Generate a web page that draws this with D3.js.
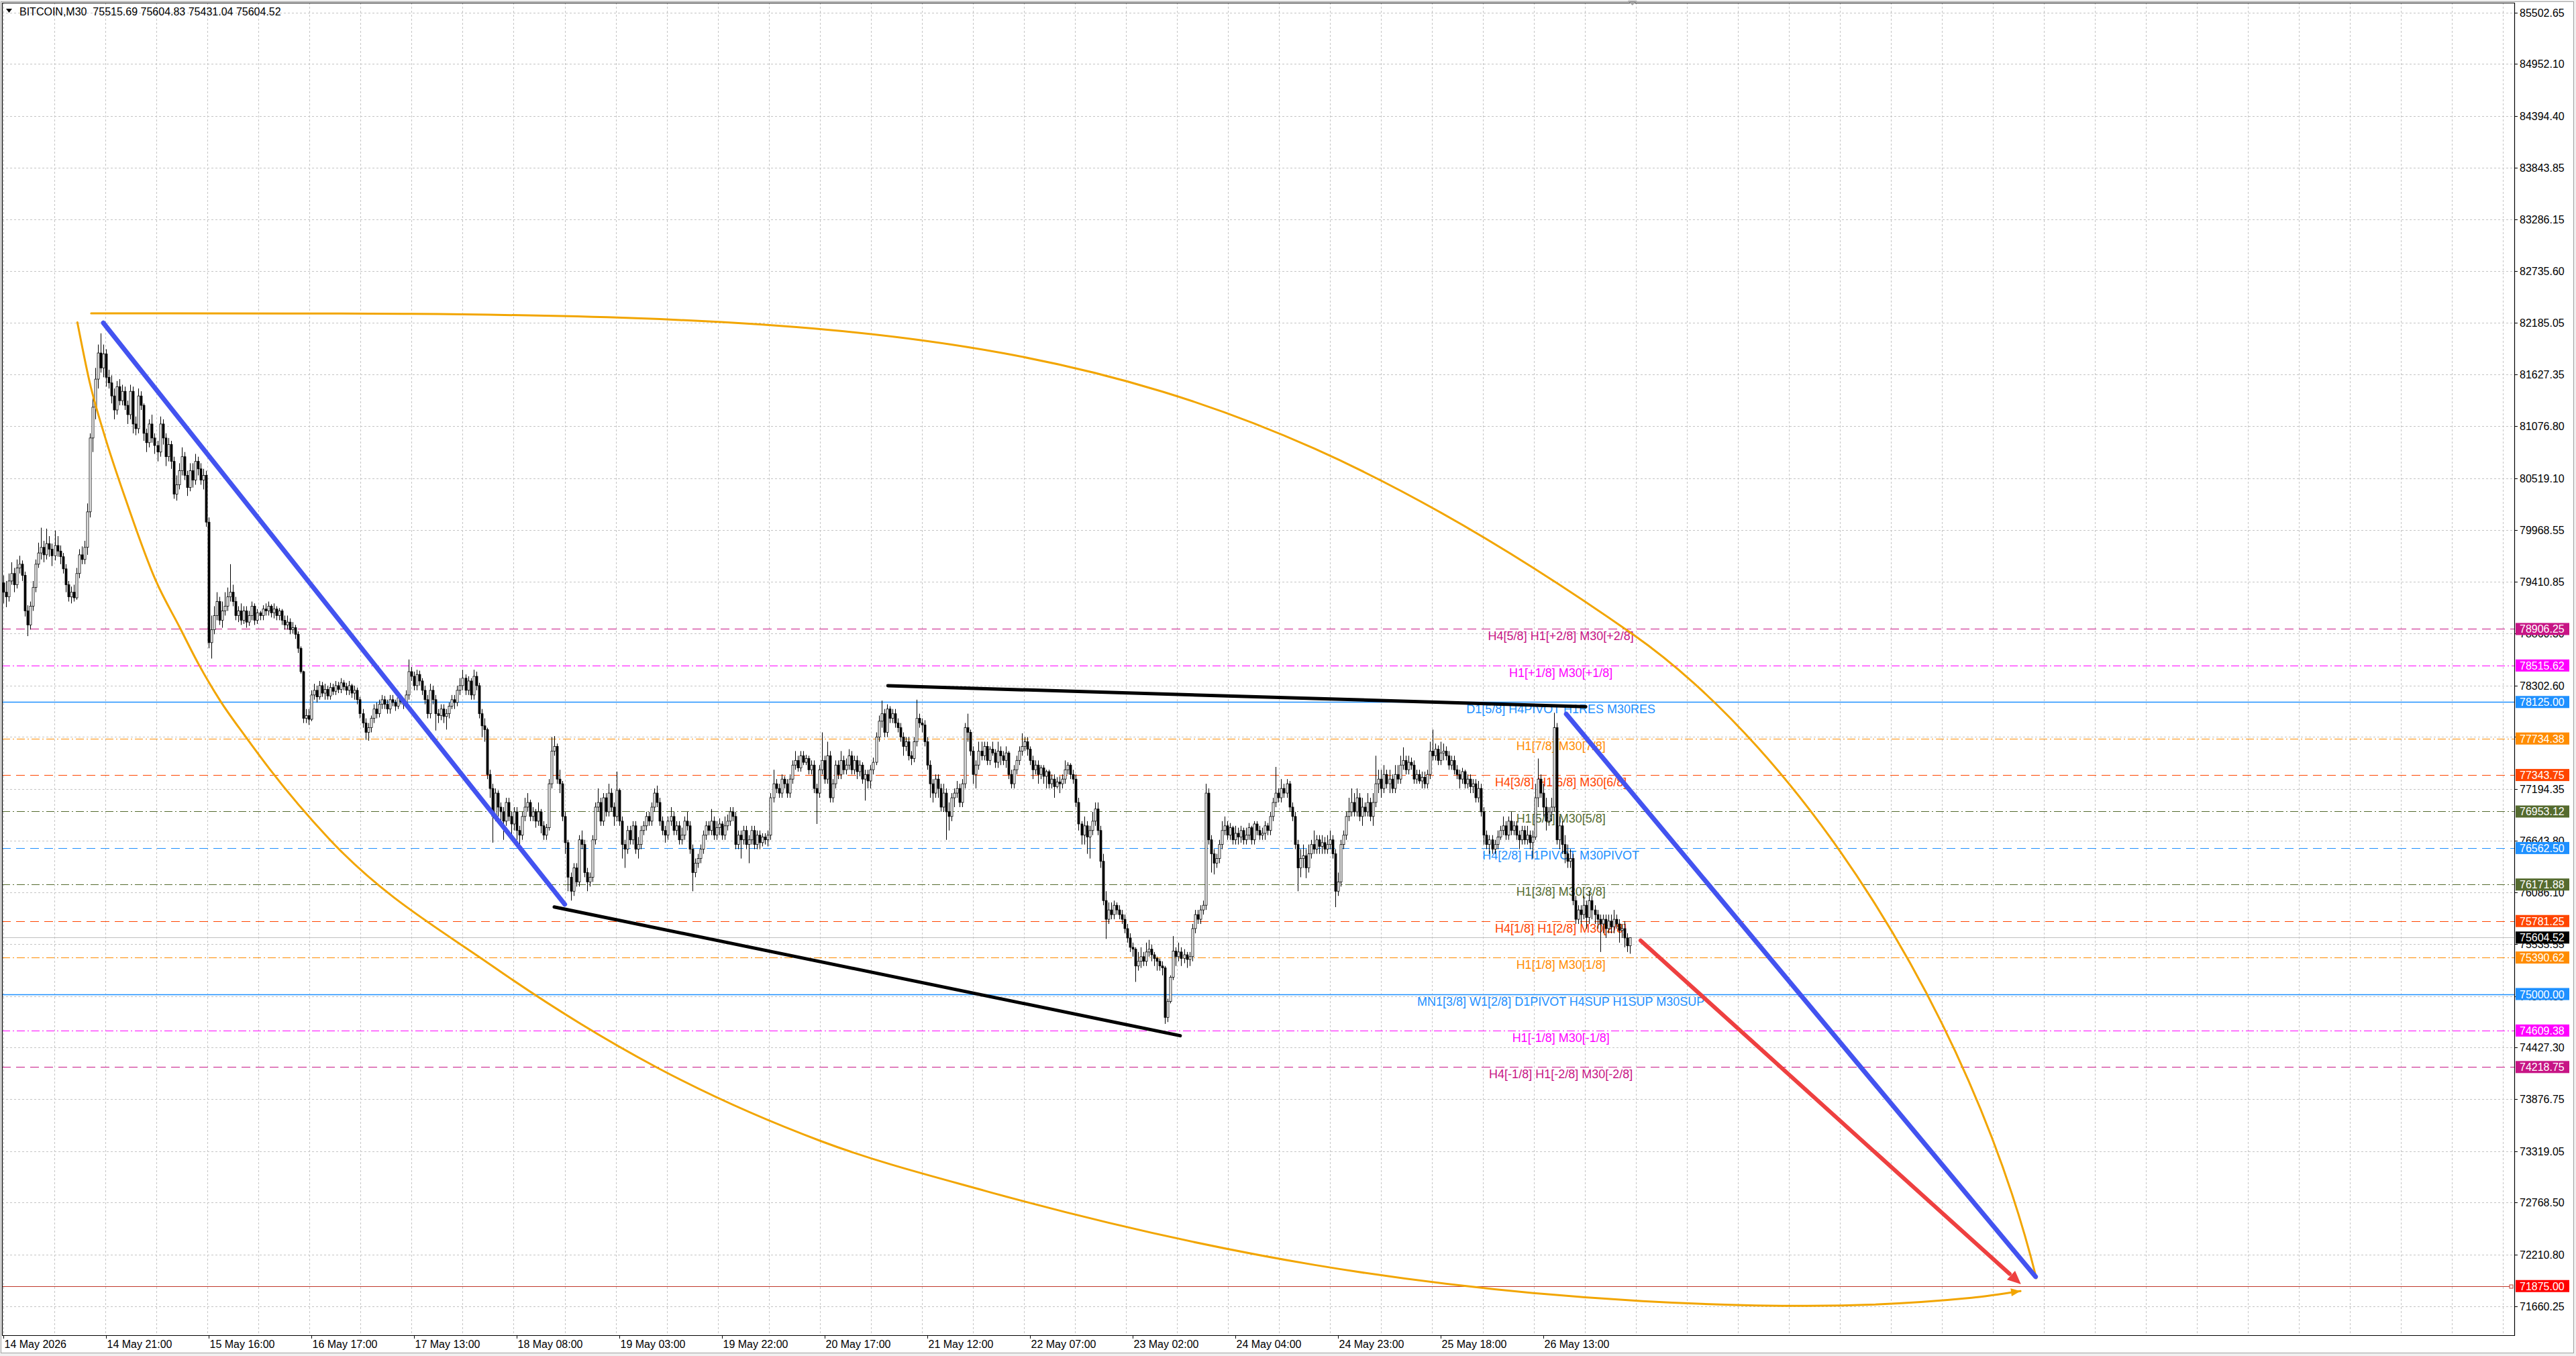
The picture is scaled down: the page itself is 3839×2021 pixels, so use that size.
<!DOCTYPE html>
<html>
<head>
<meta charset="utf-8">
<script src="https://cdn.jsdelivr.net/npm/d3@7"></script>
<style>
html, body { margin: 0; padding: 0; background: #f0f0f0; overflow: hidden; }
svg { display: block; }
text { font-family: Arial, "Liberation Sans", sans-serif; }
</style>
</head>
<body>
<script>
(function() {

var W = 3839, H = 2021;

var symbol = "BITCOIN,M30";
var firstOpen = 79400;

// M30 closes, one per bar
var closes = [
79300,79250,79420,79500,79380,79560,79600,79480,79100,78950,
79150,79350,79600,79720,79780,79700,79820,79760,79690,79800,
79740,79680,79550,79380,79250,79300,79240,79500,79700,79650,
79780,80160,80950,81280,81580,81860,81700,81850,81600,81540,
81400,81250,81500,81350,81450,81300,81200,81450,81100,81050,
81400,81300,81000,80900,81100,80950,80870,80800,81100,80950,
80750,80880,80700,80350,80450,80600,80750,80550,80420,80600,
80500,80700,80620,80500,80550,80050,78760,78900,79050,79200,
79000,79100,79150,79250,79300,79200,79050,79100,79000,79100,
78980,79050,79150,79000,79080,79050,79120,79100,79150,79080,
79120,79050,79100,79000,78950,78980,78900,78920,78850,78700,
78450,77950,77980,77940,78200,78250,78180,78300,78220,78260,
78190,78280,78240,78300,78260,78330,78290,78250,78300,78220,
78250,78150,78000,77900,77800,77850,77950,78050,78000,78100,
78150,78100,78050,78150,78120,78080,78170,78130,78100,78200,
78450,78400,78300,78420,78350,78250,78150,78000,78250,78150,
78000,77980,78050,77970,78000,78080,78150,78120,78250,78300,
78380,78250,78350,78200,78400,78300,78000,77870,77830,77350,
77200,76900,77150,77000,76950,76850,77050,76900,76820,76950,
76750,76700,76900,77000,77050,76900,76950,76850,76950,76800,
76700,76780,77250,77600,77650,77300,77250,76900,76620,76250,
76100,76350,76200,76650,76600,76300,76200,76250,76650,77000,
77050,76850,77100,76950,77150,77000,76900,77180,76850,76600,
76550,76750,76650,76800,76550,76600,76750,76800,76900,76850,
77000,77150,77050,76850,76750,76700,76850,76900,76750,76800,
76650,76700,76850,76800,76550,76300,76400,76450,76550,76700,
76800,76750,76850,76700,76780,76820,76700,76800,76850,76950,
76900,76600,76700,76650,76750,76600,76650,76750,76600,76700,
76620,76680,76650,76700,77100,77250,77200,77150,77300,77250,
77150,77300,77450,77500,77420,77550,77480,77520,77400,77450,
77200,77150,77400,77500,77300,77550,77100,77250,77450,77350,
77500,77400,77450,77550,77400,77500,77380,77450,77300,77350,
77280,77400,77480,77750,77920,78000,77800,78050,77950,78000,
77900,77850,77750,77650,77700,77550,77520,77700,77950,77900,
77880,77700,77450,77250,77150,77300,77200,77000,77150,76950,
76900,77100,77150,77200,77050,77250,77850,77800,77600,77350,
77450,77600,77550,77650,77500,77620,77580,77480,77600,77550,
77500,77580,77350,77250,77400,77500,77600,77650,77700,77620,
77500,77400,77450,77350,77420,77330,77380,77250,77300,77220,
77270,77250,77300,77400,77450,77350,77300,77050,76820,76700,
76800,76680,76750,76850,76980,76750,76420,76000,75800,75900,
75850,75950,75900,75850,75800,75700,75600,75500,75480,75300,
75350,75400,75350,75450,75480,75420,75380,75350,75300,75280,
74750,74920,75180,75460,75400,75450,75380,75420,75370,75400,
75700,75850,75800,75900,75950,77150,76650,76500,76400,76450,
76600,76750,76800,76700,76780,76650,76720,76680,76750,76650,
76700,76780,76650,76820,76750,76700,76720,76800,76750,76900,
77050,77150,77100,77200,77150,77250,77000,76900,76600,76350,
76450,76480,76350,76500,76600,76550,76650,76580,76620,76550,
76600,76650,76500,76100,76200,76600,76700,76900,76950,77050,
76950,77100,76900,77000,76950,77050,76900,77050,77250,77300,
77200,77350,77250,77300,77200,77350,77300,77450,77500,77400,
77480,77450,77300,77350,77280,77320,77250,77350,77600,77550,
77620,77500,77580,77600,77550,77450,77500,77400,77350,77300,
77380,77250,77300,77220,77250,77100,77200,76950,76700,76600,
76650,76550,76600,76680,76750,76800,76700,76850,76750,76800,
76700,76650,76750,76650,76700,76620,76680,77100,77300,77150,
77000,76850,76950,77000,77850,76650,76800,76600,76500,76420,
76450,76000,75800,75900,75850,75950,75820,76000,75900,75850,
75800,75750,75800,75700,75780,75720,75800,75750,75680,75700,
75600,75515.69,75604.52
];

var highs = [
79480,79420,79500,79620,79560,79650,79690,79640,79520,79160,
79200,79420,79650,79830,79990,79850,79980,79900,79820,79960,
79900,79800,79720,79600,79420,79360,79380,79560,79760,79790,
79850,80250,81000,81400,81700,81950,82070,81950,81900,81680,
81620,81480,81560,81580,81520,81500,81350,81520,81500,81180,
81480,81450,81320,81050,81150,81200,81000,80920,81180,81150,
81000,80950,80920,80750,80550,80680,80850,80800,80600,80680,
80680,80780,80750,80680,80620,80600,80100,79050,79150,79300,
79250,79200,79300,79350,79600,79380,79250,79150,79180,79150,
79150,79100,79200,79180,79120,79100,79160,79180,79200,79170,
79180,79150,79130,79120,79050,79050,79020,78980,78950,78880,
78720,78460,78050,78050,78250,78320,78300,78350,78340,78320,
78300,78330,78320,78350,78340,78380,78360,78330,78350,78320,
78300,78280,78180,78050,77950,77900,77980,78100,78120,78150,
78200,78190,78150,78200,78200,78150,78210,78200,78160,78250,
78580,78500,78450,78470,78460,78380,78300,78200,78320,78300,
78200,78050,78100,78100,78050,78120,78200,78200,78300,78380,
78470,78420,78400,78380,78470,78450,78330,78050,77950,77850,
77400,77250,77200,77180,77050,77000,77100,77100,76950,77000,
77000,76800,76950,77100,77150,77080,77000,76980,77050,76980,
76850,76820,77300,77750,77760,77680,77400,77280,76950,76650,
76300,76400,76400,76700,76750,76650,76350,76300,76700,77050,
77200,77100,77150,77150,77250,77200,77050,77380,77200,76900,
76650,76800,76800,76850,76850,76680,76800,76850,76950,76950,
77050,77200,77230,77100,76900,76800,76900,77000,76950,76850,
76850,76780,76900,76950,76850,76600,76450,76500,76600,76750,
76850,76850,76980,76900,76850,76880,76850,76900,76920,77000,
77000,76950,76750,76750,76800,76800,76700,76800,76800,76750,
76750,76720,76720,76750,77150,77400,77300,77250,77350,77330,
77300,77350,77500,77600,77550,77600,77600,77560,77550,77500,
77500,77250,77450,77800,77550,77700,77600,77300,77500,77500,
77600,77550,77520,77620,77600,77550,77550,77500,77480,77400,
77400,77450,77530,77800,77980,78140,78050,78100,78080,78050,
78050,77950,77900,77800,77750,77750,77600,77750,78150,78000,
77950,77930,77750,77500,77300,77350,77350,77250,77250,77200,
77050,77150,77200,77280,77250,77300,77900,78000,77830,77650,
77500,77700,77700,77700,77700,77650,77700,77620,77700,77650,
77600,77650,77600,77400,77450,77550,77650,77790,77750,77750,
77650,77550,77500,77500,77450,77450,77400,77400,77350,77350,
77320,77330,77350,77500,77480,77470,77400,77350,77100,76850,
76900,76850,76800,76950,77050,77050,76800,76500,76100,75980,
75980,76000,75980,75950,75900,75850,75750,75650,75550,75500,
75450,75500,75450,75550,75580,75530,75450,75400,75380,75350,
75300,74950,75200,75620,75500,75550,75500,75480,75450,75450,
75750,75900,75900,75950,76000,77250,77200,76700,76550,76500,
76650,76850,76900,76850,76830,76800,76800,76780,76800,76780,
76780,76830,76800,76850,76850,76800,76780,76850,76830,76950,
77100,77430,77200,77300,77250,77300,77280,77050,76950,76650,
76550,76600,76550,76600,76650,76750,76700,76700,76700,76680,
76700,76750,76700,76550,76300,76650,76750,76950,77100,77200,
77150,77200,77150,77100,77050,77150,77100,77150,77550,77400,
77400,77450,77400,77400,77350,77450,77450,77550,77640,77550,
77550,77530,77500,77400,77400,77380,77380,77400,77700,77830,
77680,77660,77700,77680,77650,77600,77550,77550,77450,77400,
77420,77400,77350,77350,77300,77300,77280,77250,77000,76750,
76700,76700,76650,76750,76800,76900,76850,76900,76950,76850,
76850,76750,76800,76800,76800,76750,76750,77250,77520,77350,
77250,77100,77000,77100,78010,77900,76900,76850,76700,76600,
76550,76500,76050,75950,75950,76050,76000,76100,76050,75950,
75900,75850,75850,75850,75850,75850,75900,75850,75800,75750,
75780,75650,75604.83
];

var lows = [
79180,79140,79200,79380,79300,79340,79500,79420,79040,78830,
78900,79100,79300,79560,79650,79620,79650,79680,79580,79640,
79680,79600,79500,79300,79200,79180,79200,79220,79450,79600,
79600,79700,80100,80800,81150,81480,81650,81600,81500,81480,
81320,81150,81200,81300,81300,81250,81100,81150,81000,80980,
81000,81250,80920,80800,80850,80900,80780,80700,80750,80880,
80650,80700,80620,80300,80280,80400,80550,80500,80330,80380,
80420,80450,80550,80450,80400,80000,78700,78590,78850,79000,
78950,78920,79050,79100,79200,79150,79000,78980,78950,78960,
78920,78940,79000,78950,78960,79000,79000,79050,79050,79030,
79020,79000,79000,78950,78900,78900,78850,78860,78800,78650,
78430,77900,77900,77880,77920,78150,78120,78150,78180,78150,
78150,78150,78200,78200,78220,78220,78250,78200,78200,78170,
78150,78100,77950,77850,77720,77710,77800,77900,77950,77960,
78050,78050,78000,78000,78080,78030,78050,78100,78050,78080,
78150,78350,78250,78250,78300,78200,78100,77950,77950,78100,
77820,77900,77930,77900,77830,77950,78050,78050,78080,78200,
78250,78200,78200,78150,78150,78250,77950,77750,77700,77300,
77100,76620,76850,76900,76850,76650,76800,76850,76700,76750,
76650,76600,76650,76850,76950,76850,76850,76780,76800,76720,
76650,76650,76750,77200,77550,77250,77150,76850,76500,76100,
76000,76050,76150,76150,76550,76250,76100,76150,76200,76600,
76950,76800,76800,76900,76900,76950,76800,76850,76800,76450,
76350,76500,76600,76600,76500,76450,76550,76700,76750,76800,
76800,76950,77000,76800,76700,76620,76650,76800,76700,76700,
76600,76600,76650,76750,76500,76100,76250,76350,76400,76500,
76650,76700,76700,76650,76650,76700,76650,76650,76750,76800,
76850,76550,76550,76450,76600,76550,76400,76600,76550,76550,
76550,76580,76600,76580,76650,77050,77150,77100,77100,77200,
77100,77100,77250,77400,77380,77380,77450,77450,77350,77350,
77150,76820,77100,77350,77250,77250,77050,77050,77200,77300,
77300,77350,77350,77400,77350,77350,77300,77330,77250,77070,
77200,77200,77350,77450,77700,77850,77750,77750,77900,77900,
77850,77800,77700,77550,77600,77500,77450,77480,77650,77850,
77800,77650,77400,77100,77050,77100,77100,76950,76950,76650,
76750,76850,77000,77100,77000,77000,77200,77700,77550,77250,
77200,77400,77500,77500,77450,77450,77550,77420,77420,77450,
77450,77420,77300,77200,77200,77350,77450,77550,77600,77550,
77450,77300,77350,77250,77300,77250,77200,77200,77200,77100,
77200,77150,77200,77250,77350,77300,77250,77000,76750,76600,
76600,76500,76450,76700,76800,76700,76350,75950,75590,75750,
75800,75800,75850,75800,75750,75650,75550,75450,75400,75130,
75250,75280,75300,75300,75400,75350,75300,75250,75250,75200,
74681,74700,74900,75150,75300,75350,75300,75330,75280,75300,
75350,75650,75750,75750,75850,75900,76600,76300,76280,76350,
76400,76550,76700,76650,76650,76600,76600,76600,76620,76600,
76600,76650,76600,76600,76700,76650,76650,76650,76700,76700,
76850,77000,77050,77050,77100,77100,76950,76850,76550,76100,
76250,76350,76240,76300,76450,76500,76500,76500,76500,76500,
76500,76550,76450,75930,76050,76150,76550,76650,76850,76900,
76900,76900,76850,76800,76900,76900,76850,76800,77000,77150,
77100,77150,77200,77150,77150,77150,77250,77250,77400,77350,
77350,77400,77250,77250,77250,77200,77200,77200,77300,77500,
77500,77450,77450,77500,77500,77400,77400,77350,77300,77200,
77250,77200,77200,77150,77150,77050,77050,76900,76600,76550,
76500,76500,76500,76550,76650,76700,76650,76650,76700,76700,
76650,76550,76600,76600,76600,76550,76450,76650,77000,77100,
76900,76750,76800,76850,76950,76600,76550,76500,76400,76350,
76350,75950,75750,75750,75750,75800,75700,75750,75800,75750,
75700,75450,75650,75600,75650,75650,75650,75700,75550,75600,
75500,75450,75431.04
];

// time axis: one label every 38 bars
var labelStep = 38;
var timeLabels = ["14 May 2026", "14 May 21:00", "15 May 16:00", "16 May 17:00",
  "17 May 13:00", "18 May 08:00", "19 May 03:00", "19 May 22:00", "20 May 17:00",
  "21 May 12:00", "22 May 07:00", "23 May 02:00", "24 May 04:00", "24 May 23:00",
  "25 May 18:00", "26 May 13:00"];

var priceTicks = [85502.65, 84952.10, 84394.40, 83843.85, 83286.15, 82735.60,
  82185.05, 81627.35, 81076.80, 80519.10, 79968.55, 79410.85, 78860.30, 78302.60,
  77752.05, 77194.35, 76643.80, 76086.10, 75535.55, 74977.85, 74427.30, 73876.75,
  73319.05, 72768.50, 72210.80, 71660.25];

// Murrey math levels
var levelPrices = [78906.25, 78515.62, 78125.00, 77734.38, 77343.75, 76953.12,
  76562.50, 76171.88, 75781.25, 75390.62, 75000.00, 74609.38, 74218.75];
var levelNames = ["H4[5/8] H1[+2/8] M30[+2/8]", "H1[+1/8] M30[+1/8]",
  "D1[5/8] H4PIVOT H1RES M30RES", "H1[7/8] M30[7/8]", "H4[3/8] H1[6/8] M30[6/8]",
  "H1[5/8] M30[5/8]", "H4[2/8] H1PIVOT M30PIVOT", "H1[3/8] M30[3/8]",
  "H4[1/8] H1[2/8] M30[2/8]", "H1[1/8] M30[1/8]",
  "MN1[3/8] W1[2/8] D1PIVOT H4SUP H1SUP M30SUP", "H1[-1/8] M30[-1/8]",
  "H4[-1/8] H1[-2/8] M30[-2/8]"];
var levelColors = ["#C71585", "#FF00FF", "#1E90FF", "#FF8C00", "#FF4500", "#556B2F",
  "#1E90FF", "#556B2F", "#FF4500", "#FF8C00", "#1E90FF", "#FF00FF", "#C71585"];
var levelStyles = ["dash", "dashdot", "solid", "dashdot", "dash", "dashdot",
  "dash", "dashdot", "dash", "dashdot", "solid", "dashdot", "dash"];
var levelLabelBar = 576.5;

var targetPrice = 71875.00;

// drawn objects, as [bar, price]
var blueLine1 = [[37.0, 82182], [207.8, 75960]];
var blueLine2 = [[578.5, 77996], [752.2, 71975]];
var blackTop = [[327.4, 78299], [585.7, 78075]];
var blackBottom = [[203.9, 75932], [435.6, 74554]];
var redArrow = [[606.0, 75573], [746.8, 71895]];
// upper curve: two cubic segments (start, ctrl, ctrl, end, ctrl, ctrl, end)
var upperArc = [[32.5, 82284], [330.6, 82284], [429.2, 82370], [603.0, 78852],
  [665.1, 77596], [727.7, 74832], [752.5, 71959]];
var lowerArc = [[27.4, 82188], [32.0, 81541], [37.6, 80964], [45.3, 80291],
  [56.4, 79425], [65.3, 78922], [72.3, 78528], [80.3, 78137], [89.7, 77752],
  [98.6, 77406], [120.5, 76662], [181.1, 75298], [241.9, 74214], [302.8, 73424],
  [363.6, 72892], [485.1, 72102], [606.8, 71714], [667.6, 71663], [728.5, 71749],
  [746.6, 71821]];

var plotLeft = 3, plotTop = 4, plotRight = 3747, plotBottom = 1990;

var xs = d3.scaleLinear().domain([0, 570]).range([5, 2300]);
var ys = d3.scaleLinear().domain([71349.05, 85601.4]).range([plotBottom, 5]);

var svg = d3.select("body").append("svg").attr("width", W).attr("height", H);

svg.append("rect").attr("x", 1.5).attr("y", 2.5).attr("width", 3834).attr("height", 2014)
  .attr("fill", "#fff").attr("stroke", "#a0a0a0");

svg.append("defs").append("clipPath").attr("id", "plotclip").append("rect")
  .attr("x", plotLeft).attr("y", plotTop)
  .attr("width", plotRight - plotLeft).attr("height", plotBottom - plotTop);

// grid
var grid = svg.append("g").attr("stroke", "#c4c4c4").attr("stroke-dasharray", "3,3");
grid.selectAll("line.v").data(d3.range(5.3, plotRight - 5, 76.02)).enter().append("line")
  .attr("x1", d => Math.round(d) + 0.5).attr("x2", d => Math.round(d) + 0.5)
  .attr("y1", plotTop).attr("y2", plotBottom);
grid.selectAll("line.h").data(priceTicks).enter().append("line")
  .attr("x1", plotLeft).attr("x2", plotRight)
  .attr("y1", d => Math.round(ys(d)) + 0.5).attr("y2", d => Math.round(ys(d)) + 0.5);

function dashOf(s) {
  if (s == "dash") return "13,8";
  if (s == "dashdot") return "12,4,2,4";
  return null;
}

// levels
var lv = svg.append("g");
levelPrices.forEach(function(p, k) {
  var y = Math.round(ys(p)) + 0.5;
  lv.append("line").attr("x1", plotLeft).attr("x2", plotRight).attr("y1", y).attr("y2", y)
    .attr("stroke", levelColors[k]).attr("stroke-width", levelStyles[k] == "solid" ? 1.5 : 1.2)
    .attr("stroke-dasharray", dashOf(levelStyles[k]));
  lv.append("text").attr("x", xs(levelLabelBar)).attr("y", y + 16)
    .attr("text-anchor", "middle").attr("font-size", 18).attr("fill", levelColors[k])
    .text(levelNames[k]);
});

// bid line and target line
var last = closes[closes.length - 1];
svg.append("line").attr("x1", plotLeft).attr("x2", plotRight)
  .attr("y1", Math.round(ys(last)) + 0.5).attr("y2", Math.round(ys(last)) + 0.5)
  .attr("stroke", "#c0c0c0").attr("stroke-width", 1.2);
var ty = Math.round(ys(targetPrice)) + 0.5;
svg.append("line").attr("x1", plotLeft).attr("x2", plotRight - 3).attr("y1", ty).attr("y2", ty)
  .attr("stroke", "#c0392b").attr("stroke-width", 1.2);
svg.append("rect").attr("x", plotRight - 7).attr("y", ty - 2.5).attr("width", 5).attr("height", 5)
  .attr("fill", "#fff").attr("stroke", "#c0392b");

// candles
var bars = closes.map(function(c, i) {
  return { i: i, o: i ? closes[i - 1] : firstOpen, c: c, h: highs[i], l: lows[i] };
});
var cg = svg.append("g").attr("clip-path", "url(#plotclip)");
cg.selectAll("line.wick").data(bars).enter().append("line")
  .attr("x1", d => Math.round(xs(d.i)) + 0.5).attr("x2", d => Math.round(xs(d.i)) + 0.5)
  .attr("y1", d => ys(d.h)).attr("y2", d => ys(d.l))
  .attr("stroke", "#000").attr("stroke-width", 1);
cg.selectAll("rect.body").data(bars).enter().append("rect")
  .attr("x", d => Math.round(xs(d.i)) - 1)
  .attr("y", d => ys(Math.max(d.o, d.c)))
  .attr("width", 3)
  .attr("height", d => Math.max(1, Math.abs(ys(d.o) - ys(d.c))))
  .attr("fill", d => d.c >= d.o ? "#fff" : "#000")
  .attr("stroke", "#000").attr("stroke-width", 0.8);

// drawn objects
var ln = d3.line().x(d => xs(d[0])).y(d => ys(d[1]));
var arcLine = d3.line().x(d => xs(d[0])).y(d => ys(d[1])).curve(d3.curveMonotoneX);
function bezier(pts) {
  var p = d3.path();
  p.moveTo(xs(pts[0][0]), ys(pts[0][1]));
  for (var k = 1; k + 2 < pts.length; k += 3) {
    p.bezierCurveTo(xs(pts[k][0]), ys(pts[k][1]), xs(pts[k + 1][0]), ys(pts[k + 1][1]),
      xs(pts[k + 2][0]), ys(pts[k + 2][1]));
  }
  return p.toString();
}
var og = svg.append("g").attr("clip-path", "url(#plotclip)").attr("fill", "none")
  .attr("stroke-linecap", "round");

og.append("path").attr("d", bezier(upperArc)).attr("stroke", "#F2A500").attr("stroke-width", 3);
og.append("path").attr("d", arcLine(lowerArc)).attr("stroke", "#F2A500").attr("stroke-width", 3);
og.append("path").attr("d", ln(blackTop)).attr("stroke", "#000").attr("stroke-width", 5);
og.append("path").attr("d", ln(blackBottom)).attr("stroke", "#000").attr("stroke-width", 5);
og.append("path").attr("d", ln(blueLine1)).attr("stroke", "#4353F0").attr("stroke-width", 7);
og.append("path").attr("d", ln(blueLine2)).attr("stroke", "#4353F0").attr("stroke-width", 7);

function head(a, b, len, half) {
  var x1 = xs(a[0]), y1 = ys(a[1]), x2 = xs(b[0]), y2 = ys(b[1]);
  var ang = Math.atan2(y2 - y1, x2 - x1);
  var bx = x2 - len * Math.cos(ang), by = y2 - len * Math.sin(ang);
  var nx = -Math.sin(ang) * half, ny = Math.cos(ang) * half;
  return [[x2, y2], [bx + nx, by + ny], [bx - nx, by - ny]].map(p => p.join(",")).join(" ");
}
var redShaft = [redArrow[0], [redArrow[0][0] + (redArrow[1][0] - redArrow[0][0]) * 0.97,
  redArrow[0][1] + (redArrow[1][1] - redArrow[0][1]) * 0.97]];
og.append("path").attr("d", ln(redShaft)).attr("stroke", "#EE4040").attr("stroke-width", 6);
svg.append("polygon").attr("points", head(redArrow[0], redArrow[1], 20, 9)).attr("fill", "#EE4040");
svg.append("polygon").attr("points", head(lowerArc[lowerArc.length - 2], lowerArc[lowerArc.length - 1], 14, 6))
  .attr("fill", "#F2A500");

// frame
var fr = svg.append("g").attr("stroke", "#000").attr("stroke-width", 1.2);
fr.append("line").attr("x1", plotLeft + 0.5).attr("x2", plotLeft + 0.5).attr("y1", plotTop).attr("y2", plotBottom);
fr.append("line").attr("x1", plotLeft).attr("x2", plotRight).attr("y1", plotTop + 0.5).attr("y2", plotTop + 0.5);
fr.append("line").attr("x1", plotRight + 0.5).attr("x2", plotRight + 0.5).attr("y1", plotTop).attr("y2", plotBottom + 1);
fr.append("line").attr("x1", plotLeft).attr("x2", plotRight + 1).attr("y1", plotBottom + 0.5).attr("y2", plotBottom + 0.5);

// shift marker
var mx = xs(closes.length - 1) + 4;
svg.append("polygon").attr("points", [[mx - 7, 1], [mx + 7, 1], [mx, 8]].map(p => p.join(",")).join(" "))
  .attr("fill", "#a0a0a0");

// price axis
var pa = svg.append("g");
pa.selectAll("line").data(priceTicks).enter().append("line")
  .attr("x1", plotRight).attr("x2", plotRight + 5)
  .attr("y1", d => Math.round(ys(d)) + 0.5).attr("y2", d => Math.round(ys(d)) + 0.5)
  .attr("stroke", "#000");
pa.selectAll("text").data(priceTicks).enter().append("text")
  .attr("x", plotRight + 8).attr("y", d => ys(d) + 6).attr("font-size", 16).attr("fill", "#000")
  .text(d => d.toFixed(2));

function tag(p, color) {
  var y = ys(p);
  pa.append("rect").attr("x", plotRight + 2).attr("y", y - 9).attr("width", 80).attr("height", 18)
    .attr("fill", color);
  pa.append("text").attr("x", plotRight + 8).attr("y", y + 6).attr("font-size", 16).attr("fill", "#fff")
    .text(p.toFixed(2));
}
levelPrices.forEach(function(p, k) { tag(p, levelColors[k]); });
tag(last, "#000");
tag(targetPrice, "#FF0000");

// time axis
var ta = svg.append("g");
timeLabels.forEach(function(t, k) {
  var x = Math.round(xs(k * labelStep)) + 0.5;
  ta.append("line").attr("x1", x).attr("x2", x).attr("y1", plotBottom).attr("y2", plotBottom + 5)
    .attr("stroke", "#000");
  ta.append("text").attr("x", x + 1).attr("y", plotBottom + 19).attr("font-size", 16)
    .attr("fill", "#000").text(t);
});

// title
var lb = bars[bars.length - 1];
svg.append("polygon").attr("points", "9,13 18,13 13.5,19").attr("fill", "#000");
svg.append("text").attr("x", 29).attr("y", 23).attr("font-size", 16).attr("fill", "#000")
  .style("white-space", "pre")
  .text(symbol + "  " + lb.o.toFixed(2) + " " + lb.h.toFixed(2) + " " + lb.l.toFixed(2) + " " + lb.c.toFixed(2));

})();
</script>
</body>
</html>
